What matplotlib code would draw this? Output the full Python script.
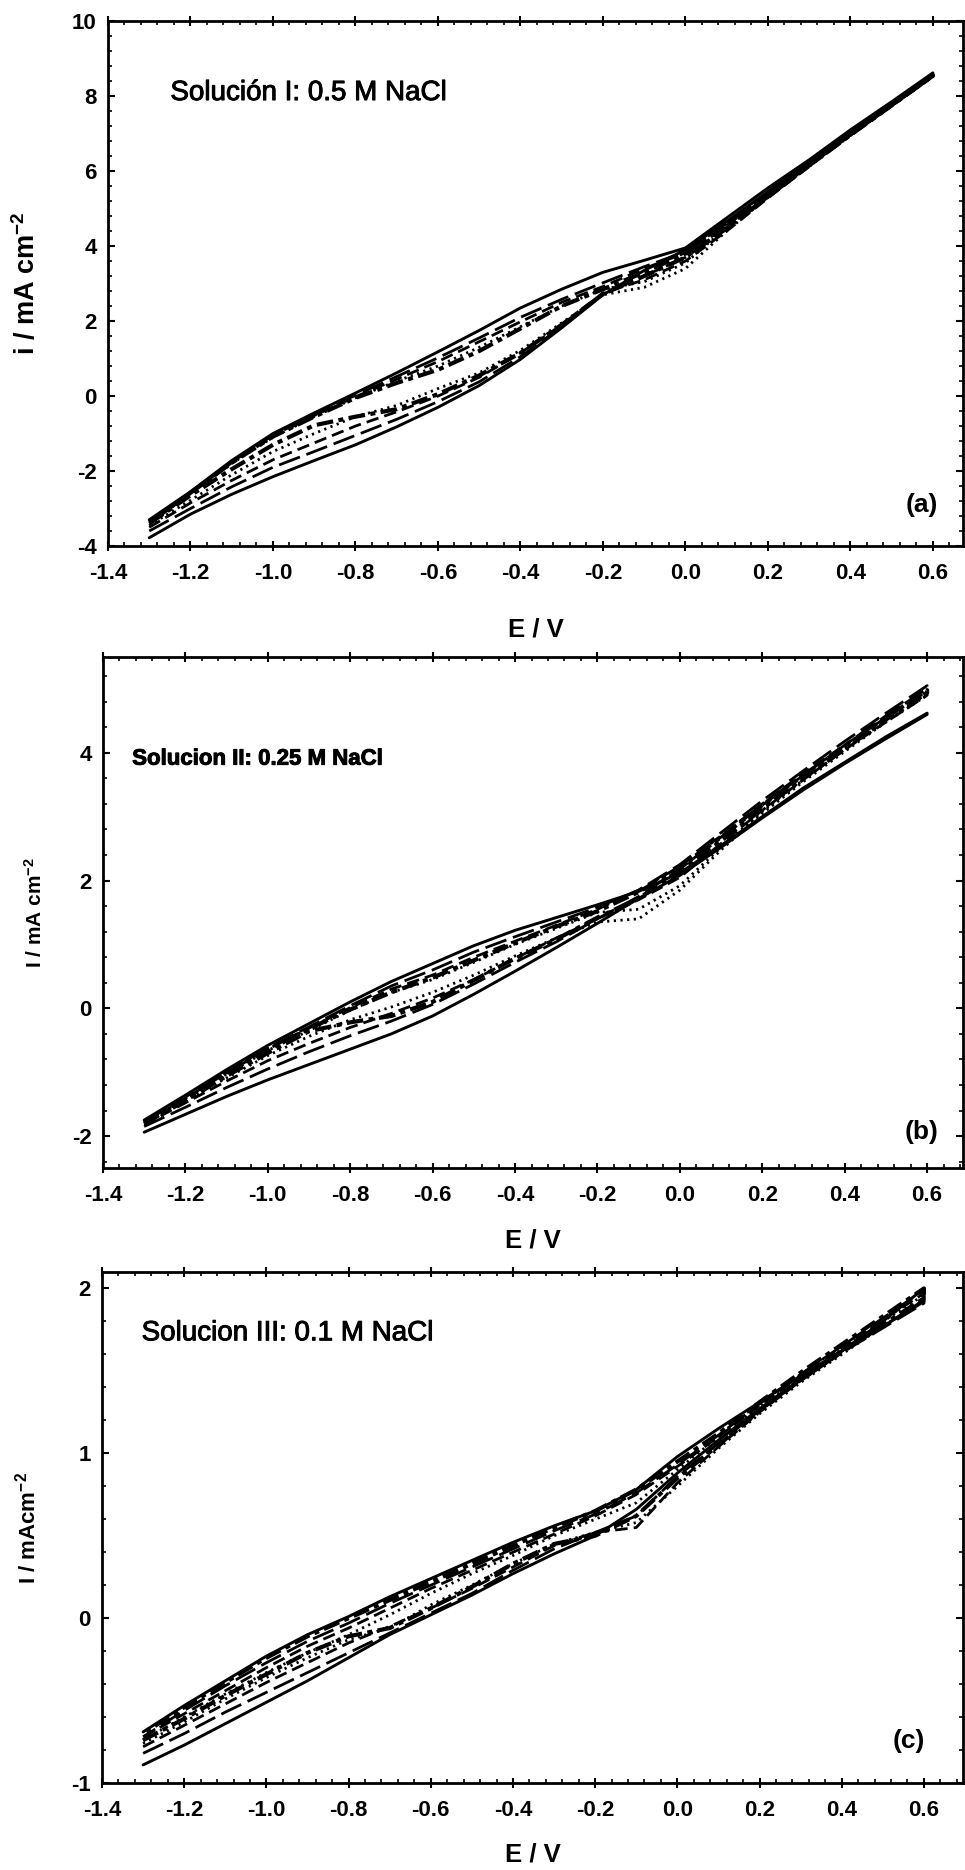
import matplotlib
matplotlib.use("Agg")
import matplotlib.pyplot as plt
import matplotlib.patheffects as pe
from matplotlib.ticker import MultipleLocator, AutoMinorLocator, FormatStrFormatter
import numpy as np

plt.rcParams['font.family'] = ['Liberation Sans', 'DejaVu Sans']
plt.rcParams['axes.unicode_minus'] = False
plt.rcParams['mathtext.fontset'] = 'custom'
plt.rcParams['mathtext.rm'] = 'Liberation Sans:bold'
plt.rcParams['mathtext.default'] = 'rm'

# potential nodes (V), same for every sweep
E = [-1.3, -1.2, -1.1, -1.0, -0.9, -0.8, -0.7, -0.6, -0.5, -0.4,
     -0.3, -0.2, -0.1, 0.0, 0.1, 0.2, 0.3, 0.4, 0.5, 0.6]

# (a) 0.5 M NaCl, current densities (mA cm-2), upper and lower branch of each cycle
a_upper = [
    [-3.30, -2.55, -1.72, -1.00, -0.45, 0.08, 0.62, 1.18, 1.75, 2.35, 2.85, 3.30, 3.62, 3.95, 4.75, 5.55, 6.30, 7.10, 7.85, 8.62],
    [-3.35, -2.57, -1.76, -1.05, -0.50, 0.02, 0.52, 1.02, 1.55, 2.10, 2.58, 3.02, 3.45, 3.85, 4.60, 5.40, 6.20, 7.00, 7.78, 8.55],
    [-3.35, -2.58, -1.78, -1.08, -0.52, -0.02, 0.45, 0.92, 1.45, 1.98, 2.50, 2.92, 3.40, 3.82, 4.55, 5.38, 6.18, 6.98, 7.76, 8.55],
    [-3.40, -2.60, -1.80, -1.10, -0.55, -0.05, 0.40, 0.80, 1.30, 1.85, 2.40, 2.85, 3.05, 3.55, 4.50, 5.35, 6.15, 6.95, 7.75, 8.55],
    [-3.38, -2.58, -1.78, -1.08, -0.55, -0.05, 0.35, 0.70, 1.20, 1.80, 2.40, 2.85, 3.30, 3.80, 4.55, 5.38, 6.18, 6.98, 7.76, 8.56],
]
a_lower = [
    [-3.78, -3.15, -2.62, -2.15, -1.72, -1.30, -0.82, -0.30, 0.28, 0.98, 1.82, 2.70, 3.35, 3.90, 4.65, 5.45, 6.25, 7.05, 7.80, 8.58],
    [-3.60, -3.00, -2.42, -1.90, -1.48, -1.05, -0.62, -0.15, 0.38, 1.05, 1.85, 2.72, 3.20, 3.70, 4.45, 5.30, 6.15, 6.98, 7.75, 8.52],
    [-3.50, -2.85, -2.25, -1.70, -1.25, -0.80, -0.42, 0.00, 0.50, 1.15, 1.90, 2.75, 3.10, 3.60, 4.40, 5.28, 6.12, 6.96, 7.74, 8.52],
    [-3.45, -2.78, -2.10, -1.48, -1.00, -0.55, -0.25, 0.20, 0.62, 1.22, 1.95, 2.70, 2.90, 3.40, 4.40, 5.30, 6.12, 6.95, 7.74, 8.52],
    [-3.40, -2.65, -1.95, -1.30, -0.78, -0.55, -0.35, 0.05, 0.55, 1.15, 1.90, 2.72, 3.20, 3.70, 4.48, 5.32, 6.15, 6.96, 7.75, 8.54],
]

# (b) 0.25 M NaCl
b_upper = [
    [-1.75, -1.36, -0.96, -0.58, -0.24, 0.10, 0.42, 0.70, 0.98, 1.22, 1.42, 1.62, 1.83, 2.12, 2.55, 3.00, 3.45, 3.85, 4.25, 4.62],
    [-1.78, -1.39, -0.99, -0.62, -0.29, 0.04, 0.35, 0.60, 0.88, 1.12, 1.35, 1.58, 1.85, 2.25, 2.75, 3.25, 3.72, 4.18, 4.62, 5.05],
    [-1.80, -1.41, -1.01, -0.64, -0.31, 0.01, 0.30, 0.52, 0.80, 1.05, 1.30, 1.55, 1.85, 2.22, 2.70, 3.20, 3.68, 4.12, 4.55, 4.95],
    [-1.80, -1.42, -1.03, -0.66, -0.35, -0.03, 0.25, 0.45, 0.72, 1.00, 1.25, 1.50, 1.55, 1.92, 2.52, 3.08, 3.58, 4.05, 4.50, 4.92],
    [-1.78, -1.40, -1.01, -0.64, -0.32, -0.02, 0.25, 0.48, 0.75, 1.02, 1.28, 1.52, 1.82, 2.20, 2.68, 3.18, 3.65, 4.10, 4.55, 4.98],
]
b_lower = [
    [-1.94, -1.66, -1.38, -1.12, -0.88, -0.64, -0.40, -0.12, 0.22, 0.58, 0.95, 1.33, 1.72, 2.08, 2.52, 2.98, 3.42, 3.83, 4.22, 4.60],
    [-1.85, -1.55, -1.24, -0.95, -0.68, -0.43, -0.20, 0.06, 0.38, 0.72, 1.04, 1.40, 1.75, 2.18, 2.68, 3.18, 3.65, 4.12, 4.58, 5.00],
    [-1.82, -1.48, -1.14, -0.82, -0.55, -0.30, -0.08, 0.16, 0.45, 0.78, 1.10, 1.40, 1.70, 2.05, 2.58, 3.10, 3.58, 4.05, 4.48, 4.90],
    [-1.80, -1.45, -1.09, -0.74, -0.44, -0.18, 0.02, 0.25, 0.52, 0.82, 1.10, 1.35, 1.40, 1.85, 2.48, 3.05, 3.55, 4.02, 4.48, 4.90],
    [-1.80, -1.45, -1.06, -0.70, -0.36, -0.22, -0.12, 0.10, 0.44, 0.78, 1.08, 1.42, 1.72, 2.15, 2.62, 3.12, 3.60, 4.06, 4.52, 4.94],
]

# (c) 0.1 M NaCl
c_upper = [
    [-0.69, -0.53, -0.38, -0.23, -0.10, 0.01, 0.13, 0.24, 0.35, 0.46, 0.56, 0.65, 0.78, 0.98, 1.15, 1.31, 1.47, 1.62, 1.80, 2.00],
    [-0.72, -0.56, -0.41, -0.27, -0.14, -0.03, 0.09, 0.20, 0.31, 0.42, 0.53, 0.63, 0.76, 0.93, 1.11, 1.30, 1.48, 1.65, 1.82, 1.99],
    [-0.72, -0.58, -0.44, -0.30, -0.17, -0.06, 0.06, 0.18, 0.29, 0.40, 0.51, 0.62, 0.75, 0.92, 1.10, 1.29, 1.47, 1.64, 1.81, 1.97],
    [-0.74, -0.60, -0.46, -0.33, -0.21, -0.10, 0.02, 0.15, 0.27, 0.38, 0.50, 0.60, 0.70, 0.90, 1.10, 1.28, 1.46, 1.63, 1.80, 1.96],
    [-0.70, -0.54, -0.39, -0.24, -0.11, 0.00, 0.11, 0.22, 0.33, 0.44, 0.55, 0.65, 0.78, 0.95, 1.12, 1.31, 1.49, 1.66, 1.83, 2.00],
]
c_lower = [
    [-0.89, -0.77, -0.64, -0.51, -0.38, -0.24, -0.10, 0.02, 0.14, 0.27, 0.39, 0.50, 0.66, 0.88, 1.08, 1.27, 1.45, 1.62, 1.77, 1.92],
    [-0.82, -0.70, -0.57, -0.45, -0.33, -0.21, -0.09, 0.03, 0.15, 0.29, 0.42, 0.52, 0.62, 0.86, 1.06, 1.26, 1.44, 1.61, 1.76, 1.91],
    [-0.78, -0.65, -0.52, -0.39, -0.27, -0.15, -0.05, 0.06, 0.18, 0.31, 0.44, 0.52, 0.55, 0.82, 1.04, 1.25, 1.44, 1.61, 1.77, 1.93],
    [-0.76, -0.63, -0.49, -0.36, -0.24, -0.13, -0.06, 0.08, 0.20, 0.33, 0.45, 0.52, 0.58, 0.80, 1.03, 1.24, 1.43, 1.60, 1.77, 1.93],
    [-0.74, -0.61, -0.47, -0.34, -0.21, -0.11, -0.06, 0.06, 0.19, 0.33, 0.45, 0.50, 0.62, 0.85, 1.05, 1.26, 1.45, 1.62, 1.78, 1.94],
]

x_ticks = [-1.4, -1.2, -1.0, -0.8, -0.6, -0.4, -0.2, 0.0, 0.2, 0.4, 0.6]

# one line style per cycle
styles = [
    dict(ls='-', lw=2.1),
    dict(ls=(0, (8, 2.5)), lw=2.0),
    dict(ls=(0, (4.5, 2.2)), lw=2.0),
    dict(ls=(0, (0.8, 1.6)), lw=2.0),
    dict(ls=(0, (4, 1.3, 1.2, 1.3)), lw=3.0),
]

fig = plt.figure(figsize=(9.65, 18.7), dpi=100)

panels = [
    dict(rect=[0.1119, 0.7080, 0.8860, 0.2807], xlim=(-1.4, 0.673), ylim=(-4, 10), ymaj=2,
         up=a_upper, lo=a_lower, ylabel='i / mA cm$^{-2}$', ylab_size=19.5, ylab_x=-0.078,
         note='Solución I: 0.5 M NaCl', note_xy=(0.073, 0.863), note_size=20, note_w='normal',
         tag='(a)', tag_xy=(0.971, 0.078), xlab_pad=24),
    dict(rect=[0.1067, 0.3754, 0.8912, 0.2733], xlim=(-1.4, 0.687), ylim=(-2.5, 5.5), ymaj=2,
         up=b_upper, lo=b_lower, ylabel='I / mA cm$^{-2}$', ylab_size=15, ylab_x=-0.066,
         note='Solucion II: 0.25 M NaCl', note_xy=(0.034, 0.80), note_size=16, note_w='bold',
         tag='(b)', tag_xy=(0.971, 0.07), xlab_pad=16),
    dict(rect=[0.1057, 0.0465, 0.8922, 0.2733], xlim=(-1.395, 0.695), ylim=(-1, 2.1), ymaj=1,
         up=c_upper, lo=c_lower, ylabel='I / mAcm$^{-2}$', ylab_size=16, ylab_x=-0.072,
         note='Solucion III: 0.1 M NaCl', note_xy=(0.046, 0.88), note_size=20, note_w='normal',
         tag='(c)', tag_xy=(0.956, 0.082), xlab_pad=15),
]

for p in panels:
    ax = fig.add_axes(p['rect'])
    for up, lo, st in zip(p['up'], p['lo'], styles):
        xs = np.concatenate([E, E[::-1]])
        ys = np.concatenate([lo, up[::-1]])
        ax.plot(xs, ys, color='black', solid_capstyle='round', solid_joinstyle='round', **st)
    ax.set_xlim(*p['xlim'])
    ax.set_ylim(*p['ylim'])
    ax.set_xticks(x_ticks)
    ax.xaxis.set_major_formatter(FormatStrFormatter('%.1f'))
    ax.yaxis.set_major_locator(MultipleLocator(p['ymaj']))
    ax.xaxis.set_minor_locator(AutoMinorLocator(5))
    ax.yaxis.set_minor_locator(AutoMinorLocator(5))
    ax.tick_params(axis='x', which='major', direction='inout', length=7, width=1.5,
                   top=True, labelsize=16, pad=9)
    ax.tick_params(axis='x', which='minor', direction='in', length=3, width=1.2, top=True)
    ax.tick_params(axis='y', which='major', direction='in', length=5, width=1.5,
                   right=True, labelsize=16, pad=8)
    ax.tick_params(axis='y', which='minor', direction='in', length=3, width=1.2, right=True)
    for lab in ax.get_xticklabels() + ax.get_yticklabels():
        lab.set_fontweight('bold')
    for s in ax.spines.values():
        s.set_linewidth(2)
    ax.set_xlabel('E / V', fontsize=18.5, fontweight='bold', labelpad=p['xlab_pad'])
    ax.set_ylabel(p['ylabel'], fontsize=p['ylab_size'], fontweight='bold')
    ax.yaxis.set_label_coords(p['ylab_x'], 0.5)
    ax.text(p['note_xy'][0], p['note_xy'][1], p['note'], transform=ax.transAxes,
            fontsize=p['note_size'], fontweight=p['note_w'], ha='left', va='center',
            path_effects=[pe.withStroke(linewidth=0.7, foreground='black')])
    ax.text(p['tag_xy'][0], p['tag_xy'][1], p['tag'], transform=ax.transAxes,
            fontsize=19, fontweight='bold', ha='right', va='center')

fig.savefig('out.png', dpi=100)
